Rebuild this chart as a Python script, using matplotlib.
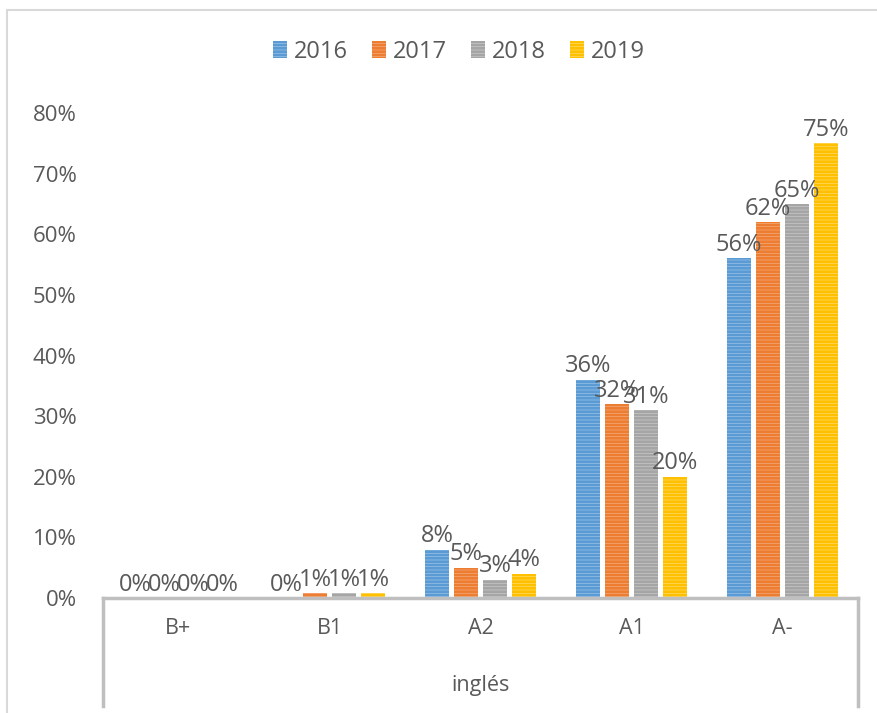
import numpy as np
import matplotlib.pyplot as plt
from matplotlib.patches import Rectangle
from matplotlib.lines import Line2D
import matplotlib.transforms as mtransforms

plt.rcParams['font.family'] = ['Open Sans', 'DejaVu Sans']
plt.rcParams['hatch.linewidth'] = 2.0

niveles = ['B+', 'B1', 'A2', 'A1', 'A-']
anios = ['2016', '2017', '2018', '2019']
v2016 = [0.0, 0.0, 0.08, 0.36, 0.56]
v2017 = [0.0, 0.008, 0.05, 0.32, 0.62]
v2018 = [0.0, 0.008, 0.03, 0.31, 0.65]
v2019 = [0.0, 0.008, 0.04, 0.20, 0.75]
series = [v2016, v2017, v2018, v2019]

base = ['#5B9BD5', '#ED7D31', '#A5A5A5', '#FFC000']
claro = ['#A9CBEA', '#F6B690', '#D2D2D2', '#FFDF80']
gris_txt = '#595959'
gris_lin = '#BFBFBF'

W, H = 878, 713
fig = plt.figure(figsize=(W / 100, H / 100), dpi=100)
ax = fig.add_axes([103 / W, 1 - 598 / H, (858 - 103) / W, (598 - 113) / H])

x = np.arange(len(niveles))
ancho = 0.165
paso = 0.192
for i, vals in enumerate(series):
    pos = x + (i - 1.5) * paso
    ax.bar(pos, vals, width=ancho, facecolor=claro[i], edgecolor=base[i],
           linewidth=0, hatch='-----', label=anios[i])
    for px, v in zip(pos, vals):
        ax.annotate(f'{v * 100:.0f}%', (px, v), xytext=(0, 1),
                    textcoords='offset points', ha='center', va='bottom',
                    fontsize=17, color=gris_txt)

ax.set_xlim(-0.5, len(niveles) - 0.5)
ax.set_ylim(0, 0.8)
ax.set_yticks(np.arange(0, 0.81, 0.1))
ax.set_yticklabels([f'{t * 100:.0f}%' for t in np.arange(0, 0.81, 0.1)])
ax.tick_params(axis='y', length=0, pad=19, labelsize=16, labelcolor=gris_txt)
ax.set_xticks([])
for s in ax.spines.values():
    s.set_visible(False)

# eje de categorias en dos niveles
tr = mtransforms.blended_transform_factory(ax.transData, fig.transFigure)
for xi, n in zip(x, niveles):
    ax.text(xi, 1 - 628 / H, n, transform=tr, ha='center', va='center',
            fontsize=15.5, color=gris_txt)
ax.text(np.mean(x), 1 - 686 / H, 'inglés', transform=tr, ha='center',
        va='center', fontsize=15.5, color=gris_txt)

y0 = 1 - 598 / H
y1 = 1 - 706 / H
xl, xr = 103 / W, 858 / W
fig.add_artist(Line2D([xl, xr], [y0, y0], color=gris_lin, lw=2.5))
fig.add_artist(Line2D([xl, xl], [y0, y1], color=gris_lin, lw=2.5))
fig.add_artist(Line2D([xr, xr], [y0, y1], color=gris_lin, lw=2.5))

# marco del grafico
fig.add_artist(Rectangle((7 / W, -0.1), 1.2, 1 - 10 / H + 0.1,
                         transform=fig.transFigure, fill=False,
                         edgecolor='#D9D9D9', lw=1.5))

leg = fig.legend(loc='center', bbox_to_anchor=(459 / W, 1 - 52 / H), ncol=4,
                 frameon=False, fontsize=17, handlelength=0.6,
                 handleheight=0.7, handletextpad=0.3, columnspacing=1.0)
for t in leg.get_texts():
    t.set_color(gris_txt)

fig.savefig('out.png', dpi=100)
